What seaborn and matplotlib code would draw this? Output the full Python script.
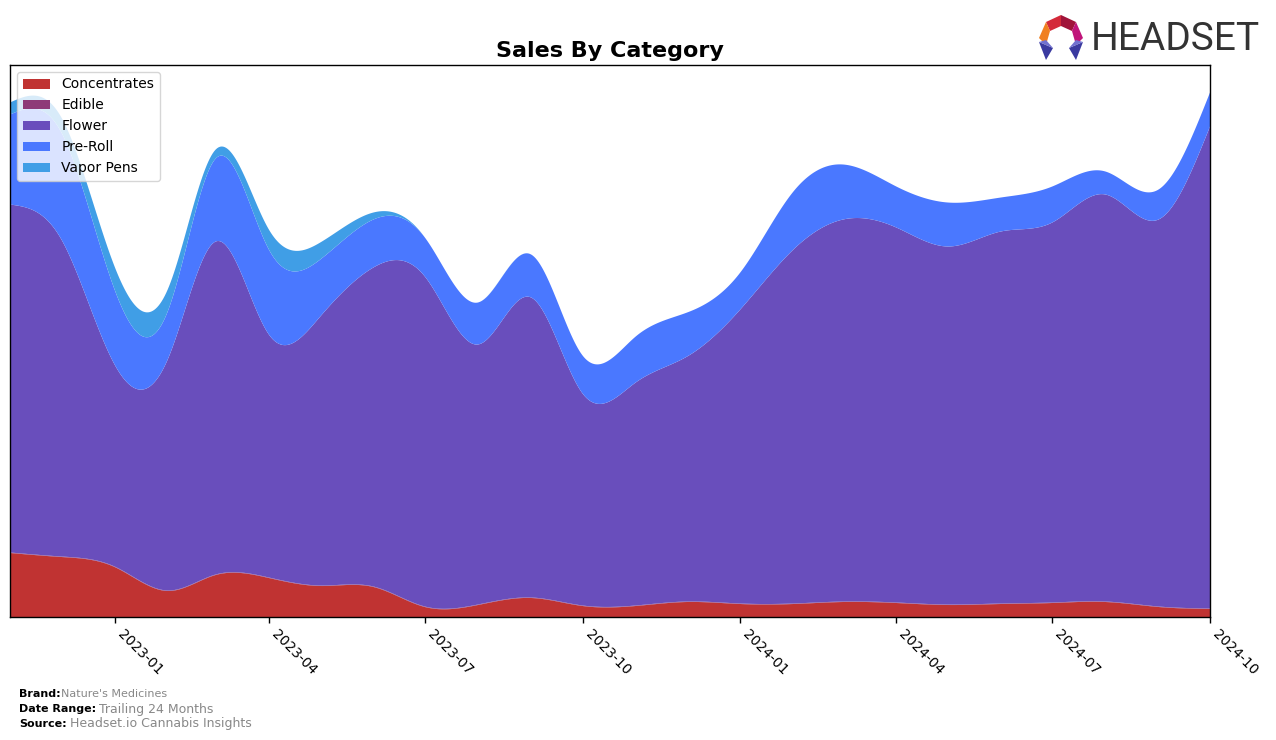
import numpy as np
import pandas as pd
import matplotlib
matplotlib.use("Agg")
import matplotlib.pyplot as plt
import matplotlib.dates as mdates
from matplotlib.patches import Polygon
import seaborn as sns

months = pd.date_range("2022-11-01", "2024-10-01", freq="MS")
categories = ["Concentrates", "Edible", "Flower", "Pre-Roll", "Vapor Pens"]
concentrates = [64, 60, 50, 26, 42, 39, 31, 30, 10, 12, 19, 11, 11, 15, 13, 13, 15, 14, 12, 13, 14, 15, 10, 8]
edible = [0.5] * 24
flower = [348, 317, 202, 231, 333, 243, 269, 319, 330, 260, 300, 212, 223, 245, 294, 354, 382, 375, 358, 372, 380, 407, 387, 482]
pre_roll = [90, 107, 75, 48, 83, 85, 57, 48, 39, 42, 43, 38, 46, 44, 37, 58, 55, 41, 44, 34, 36, 23, 30, 34]
vapor_pens = [12, 15, 23, 22, 9, 20, 17, 7, 0, 0, 0, 0, 0, 0, 0, 0, 0, 0, 0, 0, 0, 0, 0, 0]
colors = ["#C03332", "#8E3B78", "#694EBC", "#4A78FF", "#409EE6"]


def smooth(x, y, xn):
    x = np.asarray(x, float)
    y = np.asarray(y, float)
    n = len(x)
    h = np.diff(x)
    A = np.zeros((n, n))
    b = np.zeros(n)
    A[0, 0] = A[-1, -1] = 1
    for i in range(1, n - 1):
        A[i, i - 1] = h[i - 1]
        A[i, i] = 2 * (h[i - 1] + h[i])
        A[i, i + 1] = h[i]
        b[i] = 3 * ((y[i + 1] - y[i]) / h[i] - (y[i] - y[i - 1]) / h[i - 1])
    c = np.linalg.solve(A, b)
    bb = (y[1:] - y[:-1]) / h - h * (2 * c[:-1] + c[1:]) / 3
    d = (c[1:] - c[:-1]) / (3 * h)
    idx = np.clip(np.searchsorted(x, xn, side="right") - 1, 0, n - 2)
    t = xn - x[idx]
    return y[idx] + bb[idx] * t + c[idx] * t ** 2 + d[idx] * t ** 3


sns.set_style("white")
plt.rcParams["font.family"] = ["DejaVu Sans"]
plt.rcParams["text.color"] = "black"
plt.rcParams["xtick.color"] = "black"
plt.rcParams["axes.labelcolor"] = "black"

fig = plt.figure(figsize=(12.76, 7.4), dpi=100)
ax = fig.add_axes([10 / 1276, 1 - 617 / 740, 1200 / 1276, 552 / 740])

xnum = mdates.date2num(months)
xd = np.linspace(xnum[0], xnum[-1], 800)
series = [concentrates, edible, flower, pre_roll, vapor_pens]
ys = [np.clip(smooth(xnum, s, xd), 0, None) for s in series]
ax.stackplot(xd, *ys, labels=categories, colors=colors, edgecolor="none", linewidth=0)

ax.set_xlim(xnum[0], xnum[-1])
ax.set_ylim(0, 552)
ax.set_yticks([])
ax.xaxis.set_major_locator(mdates.MonthLocator(bymonth=[1, 4, 7, 10]))
ax.xaxis.set_major_formatter(mdates.DateFormatter("%Y-%m"))
ax.tick_params(axis="x", length=4, width=1, labelsize=10, direction="out", bottom=True,
               colors="black")
for lab in ax.get_xticklabels():
    lab.set_rotation(-45)
    lab.set_ha("left")
for sp in ax.spines.values():
    sp.set_visible(True)
    sp.set_color("black")
    sp.set_linewidth(1)

ax.set_title("Sales By Category", fontsize=16, fontweight="bold", pad=6, color="black")
leg = ax.legend(loc="upper left", fontsize=10, frameon=True, borderaxespad=0.5,
                handlelength=2, handleheight=0.7)
leg.get_frame().set_edgecolor("#cccccc")
for t in leg.get_texts():
    t.set_color("black")

# footer
fig.text(19 / 1276, 1 - 694 / 740, "Brand:", fontsize=8, fontweight="bold", va="center")
fig.text(61 / 1276, 1 - 694 / 740, "Nature's Medicines", fontsize=8, color="#888888", va="center")
fig.text(19 / 1276, 1 - 709 / 740, "Date Range:", fontsize=8, fontweight="bold", va="center")
fig.text(99 / 1276, 1 - 709 / 740, "Trailing 24 Months", fontsize=9, color="#888888", va="center")
fig.text(19 / 1276, 1 - 724 / 740, "Source:", fontsize=8, fontweight="bold", va="center")
fig.text(70 / 1276, 1 - 724 / 740, "Headset.io Cannabis Insights", fontsize=9, color="#888888", va="center")

# logo
fig.text(1091 / 1276, 1 - 39 / 740, "HEADSET", fontsize=28, color="#333333", va="center",
         ha="left", family=["Roboto", "DejaVu Sans"])


def P(pts, c):
    fig.patches.append(Polygon([(px / 1276, 1 - py / 740) for px, py in pts], closed=True,
                               transform=fig.transFigure, facecolor=c, edgecolor="none"))


P([(1046, 22), (1061, 15), (1061, 26), (1050, 31)], "#D42A3A")
P([(1061, 15), (1076, 22), (1072, 31), (1061, 26)], "#A0143A")
P([(1076, 22), (1083, 38), (1076, 45), (1072, 31)], "#C0157A")
P([(1046, 22), (1050, 31), (1046, 45), (1039, 38)], "#F08020")
P([(1039, 42), (1053, 48), (1046, 60)], "#3A3AA0")
P([(1083, 42), (1069, 48), (1076, 60)], "#3A3AA0")
P([(1039, 42), (1046, 40), (1053, 48)], "#7070D0")
P([(1083, 42), (1076, 40), (1069, 48)], "#7070D0")

fig.savefig("out.png", dpi=100)
